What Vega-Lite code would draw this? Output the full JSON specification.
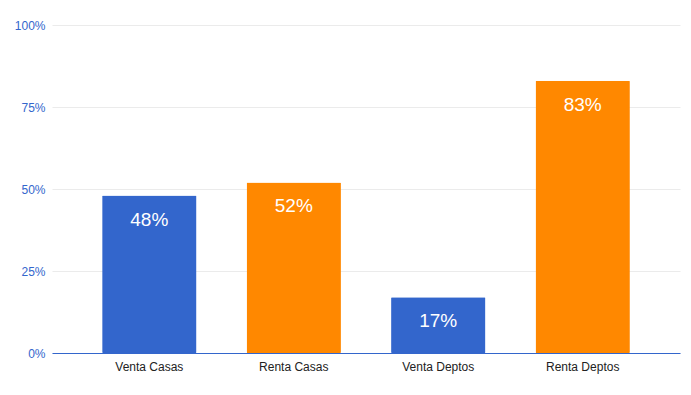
{
  "$schema": "https://vega.github.io/schema/vega-lite/v6.json",
  "autosize": "none",
  "width": 628,
  "height": 328,
  "padding": {"left": 52, "top": 25, "right": 11, "bottom": 42},
  "background": "white",
  "config": {"view": {"stroke": null}, "font": "Liberation Sans"},
  "data": {"values": [
    {"categoria": "Venta Casas", "porcentaje": 48, "tipo": "Venta"},
    {"categoria": "Renta Casas", "porcentaje": 52, "tipo": "Renta"},
    {"categoria": "Venta Deptos", "porcentaje": 17, "tipo": "Venta"},
    {"categoria": "Renta Deptos", "porcentaje": 83, "tipo": "Renta"}
  ]},
  "encoding": {
    "x": {"field": "categoria", "type": "nominal", "sort": null,
      "scale": {"paddingInner": 0.347, "paddingOuter": 0.347},
      "axis": {"title": null, "labelAngle": 0, "ticks": false, "labelFontSize": 12, "labelColor": "#222222", "labelPadding": 8, "domainColor": "#3366cc", "domainWidth": 1}},
    "y": {"field": "porcentaje", "type": "quantitative",
      "scale": {"domain": [0, 100]},
      "axis": {"title": null, "values": [0, 25, 50, 75, 100], "labelExpr": "datum.value + '%'", "ticks": false, "domain": false, "labelFontSize": 12, "labelColor": "#3366cc", "labelPadding": 7, "gridColor": "#ebebeb"}}
  },
  "layer": [
    {"mark": {"type": "bar", "cornerRadius": 1},
     "encoding": {"color": {"field": "tipo", "type": "nominal", "scale": {"domain": ["Venta", "Renta"], "range": ["#3366cc", "#ff8800"]}, "legend": null}}},
    {"mark": {"type": "text", "color": "white", "fontSize": 19, "baseline": "alphabetic", "dy": 30, "text": {"expr": "datum.porcentaje + '%'"}}}
  ]
}
